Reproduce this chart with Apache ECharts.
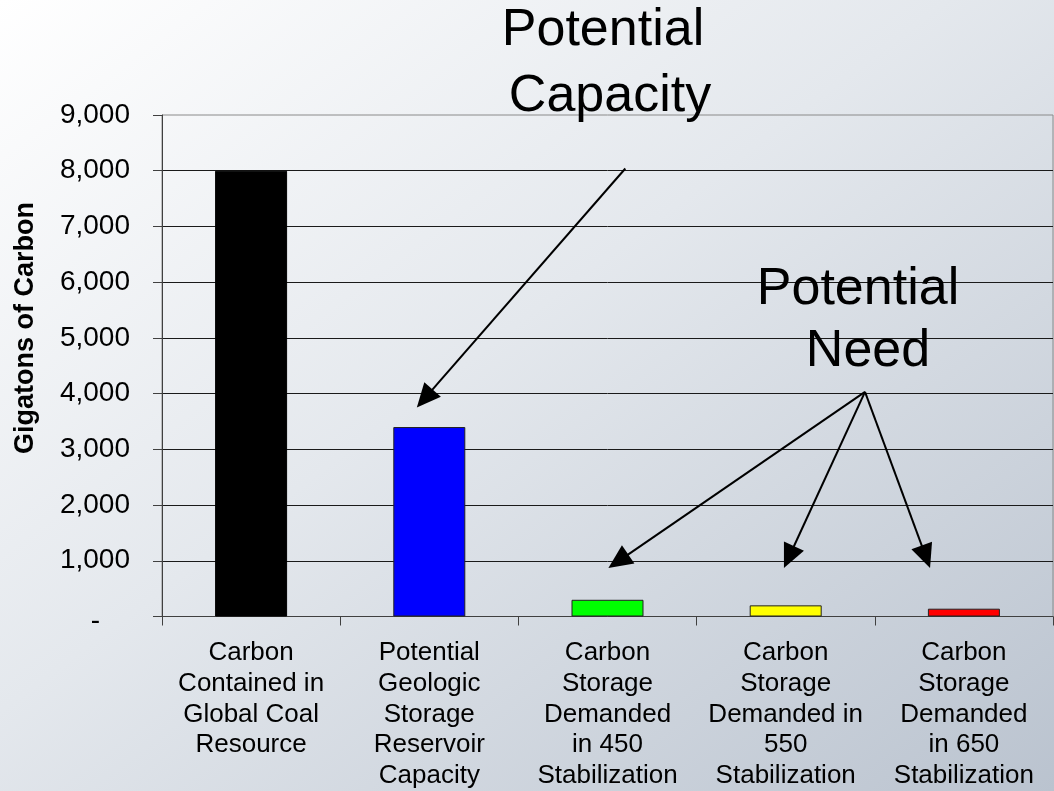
<!DOCTYPE html>
<html>
<head>
<meta charset="utf-8">
<script src="https://cdn.jsdelivr.net/npm/echarts@6/dist/echarts.min.js"></script>
<style>
  html, body { margin: 0; padding: 0; }
  #chart {
    width: 1054px; height: 791px;
    background: linear-gradient(to bottom right, #ffffff 0%, #e4e8ed 45%, #bac3cf 100%);
  }
</style>
</head>
<body>
<div id="chart"></div>
<script>
// ---- data ----
var categories = [
  'Carbon\nContained in\nGlobal Coal\nResource',
  'Potential\nGeologic\nStorage\nReservoir\nCapacity',
  'Carbon\nStorage\nDemanded\nin 450\nStabilization',
  'Carbon\nStorage\nDemanded in\n550\nStabilization',
  'Carbon\nStorage\nDemanded\nin 650\nStabilization'
];
var values = [8000, 3400, 300, 200, 140];
var barColors = ['#000000', '#0000ff', '#00ff00', '#ffff00', '#ff0000'];
var yTicks = [0, 1000, 2000, 3000, 4000, 5000, 6000, 7000, 8000, 9000];
// annotation arrows in data units: [xFrom, yFrom, xTo, yTo] (x = category index)
var capacityArrows = [[2.10, 8040, 0.93, 3750]];
var needArrows = [
  [3.445, 4030, 2.005, 870],
  [3.445, 4030, 2.99, 870],
  [3.445, 4030, 3.81, 870]
];

var FONT = '"Liberation Sans", Arial, sans-serif';
var chart = echarts.init(document.getElementById('chart'), null, {renderer: 'canvas'});

function arrowItem(params, api) {
  var p1 = api.coord([api.value(0), api.value(1)]);
  var p2 = api.coord([api.value(2), api.value(3)]);
  var dx = p2[0] - p1[0], dy = p2[1] - p1[1];
  var len = Math.sqrt(dx * dx + dy * dy);
  var ux = dx / len, uy = dy / len;
  var hl = 24, hw = 11;
  var bx = p2[0] - ux * hl, by = p2[1] - uy * hl;
  return {
    type: 'group',
    children: [
      {type: 'line', shape: {x1: p1[0], y1: p1[1], x2: bx + ux * 2, y2: by + uy * 2},
       style: {stroke: '#000', lineWidth: 2}},
      {type: 'polygon', shape: {points: [[p2[0], p2[1]], [bx - uy * hw, by + ux * hw], [bx + uy * hw, by - ux * hw]]},
       style: {fill: '#000'}}
    ]
  };
}

var option = {
  animation: false,
  backgroundColor: 'transparent',
  textStyle: {fontFamily: FONT},
  grid: {
    left: 162, right: 1, top: 115, bottom: 174.5,
    containLabel: false, outerBoundsMode: 'none',
    show: true, borderColor: '#8a8a8a', borderWidth: 1, backgroundColor: 'transparent'
  },
  xAxis: [{
    type: 'category',
    data: categories,
    axisLine: {onZero: false, lineStyle: {color: '#404040', width: 1}},
    axisTick: {show: true, length: 9, lineStyle: {color: '#404040'}},
    axisLabel: {
      interval: 0, margin: 21, color: '#000',
      fontFamily: FONT, fontSize: 26, lineHeight: 30.75, align: 'center'
    },
    splitLine: {show: false}
  }, {
    type: 'value', min: -0.5, max: 4.5, show: false
  }],
  yAxis: {
    type: 'value',
    min: 0, max: 9000, interval: 1000,
    axisLine: {show: true, onZero: false, lineStyle: {color: '#404040', width: 1}},
    axisTick: {show: true, length: 9, lineStyle: {color: '#404040'}},
    axisLabel: {
      margin: 32, color: '#000', fontFamily: FONT, fontSize: 28,
      formatter: function (v) {
        if (v === 0) return '{z|-}';
        return v.toLocaleString('en-US');
      },
      rich: {z: {fontFamily: FONT, fontSize: 28, color: '#000', padding: [10, 30, 0, 0]}}
    },
    splitLine: {show: true, showMinLine: false, showMaxLine: false, lineStyle: {color: '#1a1a1a', width: 1}}
  },
  series: [{
    type: 'bar',
    xAxisIndex: 0,
    barWidth: 72,
    data: values.map(function (v, i) {
      return {
        value: v,
        itemStyle: {color: barColors[i], borderColor: i === 0 ? '#000' : '#222', borderWidth: 1}
      };
    })
  }, {
    type: 'custom',
    coordinateSystem: 'cartesian2d',
    xAxisIndex: 1, yAxisIndex: 0,
    silent: true,
    encode: {x: [0, 2], y: [1, 3]},
    renderItem: arrowItem,
    data: capacityArrows.concat(needArrows),
    z: 5
  }],
  graphic: [
    {type: 'text', x: 603, y: 31, z: 10,
     style: {text: 'Potential', font: '52px ' + FONT, fill: '#000', align: 'center', verticalAlign: 'middle'}},
    {type: 'text', x: 610, y: 97, z: 10,
     style: {text: 'Capacity', font: '52px ' + FONT, fill: '#000', align: 'center', verticalAlign: 'middle'}},
    {type: 'text', x: 858, y: 290, z: 10,
     style: {text: 'Potential', font: '52px ' + FONT, fill: '#000', align: 'center', verticalAlign: 'middle'}},
    {type: 'text', x: 868, y: 352, z: 10,
     style: {text: 'Need', font: '52px ' + FONT, fill: '#000', align: 'center', verticalAlign: 'middle'}},
    {type: 'text', x: 26, y: 328, rotation: Math.PI / 2, z: 10,
     style: {text: 'Gigatons of Carbon', font: 'bold 27px ' + FONT, fill: '#000', align: 'center', verticalAlign: 'middle'}}
  ]
};
chart.setOption(option);
</script>
</body>
</html>
